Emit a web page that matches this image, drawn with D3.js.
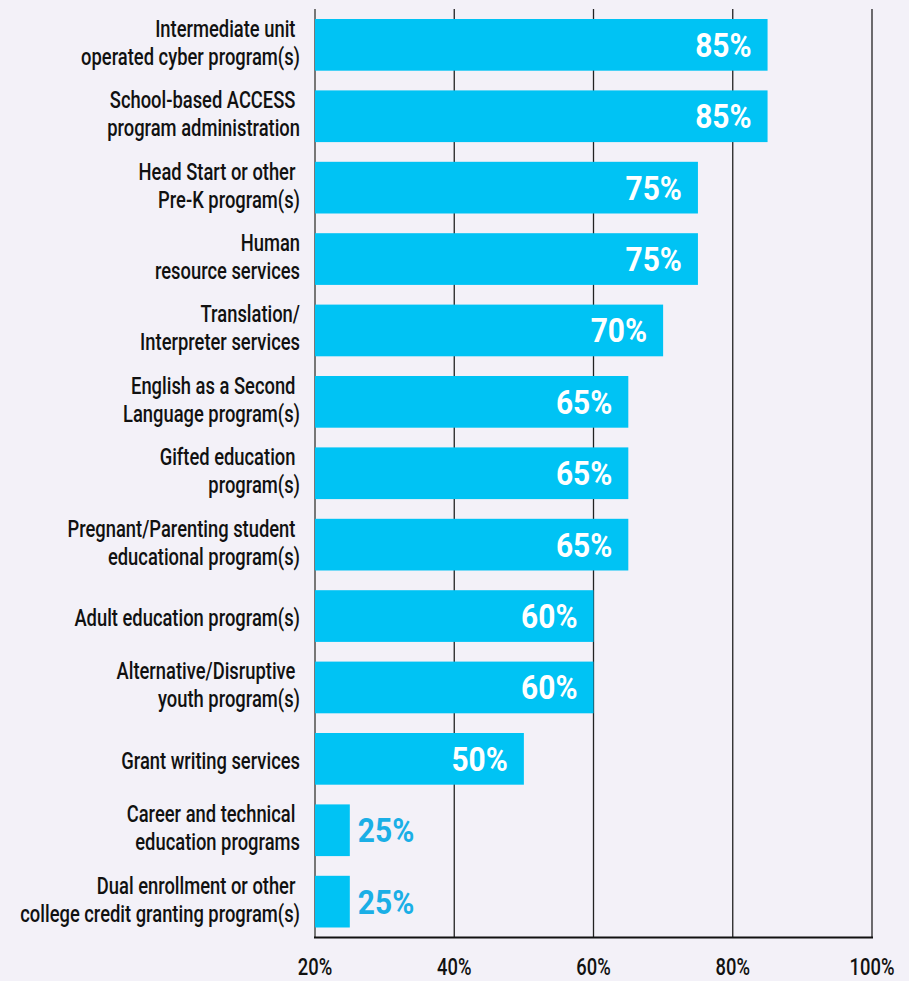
<!DOCTYPE html>
<html><head><meta charset="utf-8">
<script src="https://cdn.jsdelivr.net/npm/d3@7"></script>
<style>
html,body{margin:0;padding:0;background:#f3f1f8;}
svg{display:block;}
text{white-space:pre;}
</style></head>
<body>
<svg id="chart" width="909" height="981"></svg>
<script>
const categories = [
  ["Intermediate unit ", "operated cyber program(s)"],
  ["School-based ACCESS ", "program administration"],
  ["Head Start or other ", "Pre-K program(s)"],
  ["Human", "resource services"],
  ["Translation/", "Interpreter services"],
  ["English as a Second ", "Language program(s)"],
  ["Gifted education ", "program(s)"],
  ["Pregnant/Parenting student ", "educational program(s)"],
  ["Adult education program(s)"],
  ["Alternative/Disruptive ", "youth program(s)"],
  ["Grant writing services"],
  ["Career and technical ", "education programs"],
  ["Dual enrollment or other ", "college credit granting program(s)"]
];
const values = [85, 85, 75, 75, 70, 65, 65, 65, 60, 60, 50, 25, 25];
const tickValues = [20, 40, 60, 80, 100];
const tickLabels = ["20%", "40%", "60%", "80%", "100%"];

const svg = d3.select("#chart");
const W = 909, H = 981;
svg.append("rect").attr("width", W).attr("height", H).attr("fill", "#f3f1f8");

const x = d3.scaleLinear().domain([20, 100]).range([315, 872]);
const y = d3.scaleBand().domain(d3.range(categories.length))
  .range([9.15, 937.35]).paddingInner(0.276).paddingOuter(0.138);

const FONT = "Roboto, 'DejaVu Sans', sans-serif";
const SX = 0.765;

// gridlines
svg.append("g").selectAll("line").data(tickValues).join("line")
  .attr("x1", d => x(d)).attr("x2", d => x(d))
  .attr("y1", 9).attr("y2", 937)
  .attr("stroke", (d, i) => i === 0 ? "#777" : "#222")
  .attr("stroke-width", (d, i) => i === 0 ? 2 : 1.3);

// bars
svg.append("g").selectAll("rect").data(values).join("rect")
  .attr("x", x(20)).attr("y", (d, i) => y(i))
  .attr("width", d => x(d) - x(20)).attr("height", y.bandwidth())
  .attr("fill", "#00c3f4");

// x axis baseline
svg.append("line").attr("x1", x(20) - 1).attr("x2", x(100) + 1)
  .attr("y1", 937.5).attr("y2", 937.5).attr("stroke", "#111").attr("stroke-width", 2);

// tick labels
tickValues.forEach((t, i) => {
  svg.append("g").attr("transform", `translate(${x(t)},975) scale(${SX},1)`)
    .append("text").attr("text-anchor", "middle")
    .attr("font-family", FONT).attr("font-size", 24).attr("font-weight", 500)
    .attr("fill", "#111").text(tickLabels[i]);
});

// category labels
categories.forEach((lines, i) => {
  const c = y(i) + y.bandwidth() / 2;
  const base = lines.length === 1 ? [c + 10] : [c - 8, c + 20];
  lines.forEach((ln, j) => {
    svg.append("g").attr("transform", `translate(300,${base[j]}) scale(${SX},1)`)
      .append("text").attr("text-anchor", "end")
      .attr("font-family", FONT).attr("font-size", 24).attr("font-weight", 500)
      .attr("fill", "#111").text(ln);
  });
});

// value labels
values.forEach((v, i) => {
  const c = y(i) + y.bandwidth() / 2;
  const inside = v >= 40;
  svg.append("g").attr("transform", `translate(${inside ? x(v) - 16 : x(v) + 8},${c + 12}) scale(0.88,1)`)
    .append("text").attr("text-anchor", inside ? "end" : "start")
    .attr("font-family", FONT).attr("font-size", 34).attr("font-weight", 700)
    .attr("fill", inside ? "#ffffff" : "#1aafe6").text(v + "%");
});
</script>
</body></html>
